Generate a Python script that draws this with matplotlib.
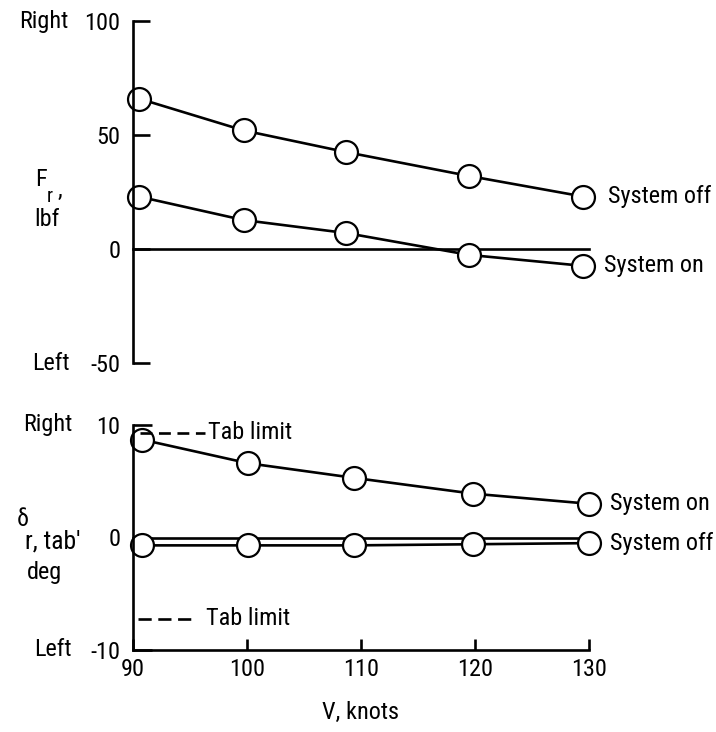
import numpy as np
import matplotlib
matplotlib.use('Agg')
from matplotlib import pyplot as plt
from matplotlib import transforms

plt.rcParams['font.family'] = ['Roboto Condensed', 'DejaVu Sans']
plt.rcParams['font.stretch'] = 'condensed'

# data
v_top = [90.5, 99.7, 108.7, 119.5, 129.5]
force_off = [66, 52, 42.5, 32, 23]
force_on = [23, 12.7, 7, -2.6, -7.4]

v_bot = [90.8, 100.1, 109.4, 119.8, 130]
tab_on = [8.7, 6.6, 5.3, 3.9, 3.0]
tab_off = [-0.7, -0.7, -0.7, -0.6, -0.5]
tab_limit_right = 9.3
tab_limit_left = -7.2

top_ticks = [100, 50, 0, -50]
bot_ticks = [10, 0, -10]
x_ticks = [90, 100, 110, 120, 130]

W, H = 716, 732
fig = plt.figure(figsize=(W / 100, H / 100), dpi=100)

def px(x, y):
    return x / W, 1 - y / H

fs = 17.5
lw = 1.9
mk = dict(marker='o', markersize=16.5, markerfacecolor='white',
          markeredgecolor='black', markeredgewidth=1.6, color='black', lw=lw)

# --- panneau du haut : F_r
ax1 = fig.add_axes([133 / W, 1 - 363 / H, 456 / W, 342 / H])
ax1.set_xlim(90, 130)
ax1.set_ylim(-50, 100)
for s in ['top', 'right', 'bottom']:
    ax1.spines[s].set_visible(False)
ax1.spines['left'].set_linewidth(lw)
ax1.set_xticks([])
ax1.set_yticks(top_ticks)
ax1.set_yticklabels([str(t) for t in top_ticks], fontsize=fs)
ax1.tick_params(axis='y', direction='in', length=12, width=lw, pad=9)
ax1.plot([90, 130], [0, 0], color='black', lw=lw, clip_on=False)
ax1.plot(v_top, force_off, clip_on=False, **mk)
ax1.plot(v_top, force_on, clip_on=False, **mk)
ax1.annotate('System off', (v_top[-1], force_off[-1]), xytext=(18, 0),
             textcoords='offset points', va='center', fontsize=fs)
ax1.annotate('System on', (v_top[-1], force_on[-1]), xytext=(15, 0),
             textcoords='offset points', va='center', fontsize=fs)
tr1 = transforms.blended_transform_factory(fig.transFigure, ax1.transData)
ax1.text(68 / W, 100, 'Right', transform=tr1, ha='right', va='center', fontsize=fs)
ax1.text(70 / W, -50, 'Left', transform=tr1, ha='right', va='center', fontsize=fs)

fig.text(*px(35, 180), 'F', fontsize=fs, va='center', ha='left')
fig.text(*px(47, 196), 'r', fontsize=fs - 3, va='center', ha='left')
fig.text(*px(58, 190), ',', fontsize=fs, va='center', ha='left')
fig.text(*px(34, 220), 'lbf', fontsize=fs, va='center', ha='left')

# --- panneau du bas : delta r,tab
ax2 = fig.add_axes([133 / W, 1 - 650 / H, 456 / W, 225 / H])
ax2.set_xlim(90, 130)
ax2.set_ylim(-10, 10)
for s in ['top', 'right']:
    ax2.spines[s].set_visible(False)
ax2.spines['left'].set_linewidth(lw)
ax2.spines['bottom'].set_linewidth(lw)
ax2.set_xticks(x_ticks)
ax2.set_xticklabels([str(t) for t in x_ticks], fontsize=fs)
ax2.set_yticks(bot_ticks)
ax2.set_yticklabels([str(t) for t in bot_ticks], fontsize=fs)
ax2.tick_params(axis='y', direction='in', length=14, width=lw, pad=9)
ax2.tick_params(axis='x', direction='in', length=8, width=lw, pad=6)
ax2.plot([90, 130], [0, 0], color='black', lw=lw, clip_on=False)
ax2.plot(v_bot, tab_off, clip_on=False, **mk)
ax2.plot(v_bot, tab_on, clip_on=False, **mk)
ax2.annotate('System on', (v_bot[-1], tab_on[-1]), xytext=(15, 0),
             textcoords='offset points', va='center', fontsize=fs)
ax2.annotate('System off', (v_bot[-1], tab_off[-1]), xytext=(15, 0),
             textcoords='offset points', va='center', fontsize=fs)

ax2.plot([90.6, 96.3], [tab_limit_right] * 2, color='black', lw=lw,
         ls=(0, (4.5, 2.5)), clip_on=False)
ax2.text(96.6, tab_limit_right, 'Tab limit', va='center', fontsize=fs)
ax2.plot([90.4, 95.3], [tab_limit_left] * 2, color='black', lw=lw,
         ls=(0, (5, 2.5)), clip_on=False)
ax2.text(96.4, tab_limit_left, 'Tab limit', va='center', fontsize=fs)

tr2 = transforms.blended_transform_factory(fig.transFigure, ax2.transData)
ax2.text(72 / W, 10, 'Right', transform=tr2, ha='right', va='center', fontsize=fs)
ax2.text(72 / W, -10, 'Left', transform=tr2, ha='right', va='center', fontsize=fs)

fig.text(*px(17, 520), 'δ', fontsize=fs, va='center', ha='left')
fig.text(*px(25, 542), "r, tab'", fontsize=fs + 1, va='center', ha='left')
fig.text(*px(27, 572), 'deg', fontsize=fs, va='center', ha='left')

ax2.set_xlabel('V, knots', fontsize=fs, labelpad=14)

fig.savefig('out.png', dpi=100)
